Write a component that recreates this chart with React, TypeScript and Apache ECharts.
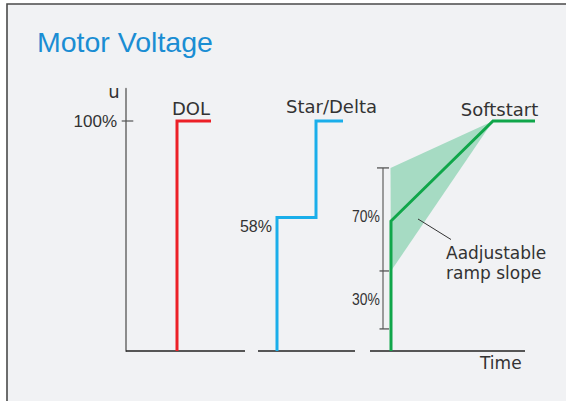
import React, { useEffect, useRef } from "react";
import * as echarts from "echarts";

// time units (1 unit = 10 px) and voltage in %
const dolX = [5.1, 5.1, 8.5];
const dolY = [0, 100, 100];
const starX = [15.1, 15.1, 19.0, 19.0, 21.7];
const starY = [0, 58, 58, 100, 100];
const softX = [26.5, 26.5, 36.7, 40.9];
const softY = [0, 56.5, 100, 100];
const bandX = [26.45, 36.7, 26.5];
const bandY = [79.6, 100, 34.8];
const bracketX = 25.7;
const bracketY = [79.6, 34.8, 9.6];
const axisSegX = [
  [0, 11.9],
  [13.2, 22.9],
  [24.4, 39.9],
];
const yTicks = [100];

const RED = "#ec2027";
const BLUE = "#1aaeea";
const GREEN = "#10a64a";
const BAND = "#a6dbc3";
const TXT = "#333333";

const zip = (xs: number[], ys: number[]) => xs.map((x, i) => [x, ys[i]]);

const segRender = (color: string, width: number) => (params: any, api: any) => {
  const p1 = api.coord([api.value(0), api.value(1)]);
  const p2 = api.coord([api.value(2), api.value(3)]);
  return {
    type: "line",
    shape: { x1: p1[0], y1: p1[1], x2: p2[0], y2: p2[1] },
    style: { stroke: color, lineWidth: width, lineCap: "butt" },
  };
};

export default function App() {
  const ref = useRef<HTMLDivElement>(null);
  useEffect(() => {
    if (!ref.current) return;
    const chart = echarts.init(ref.current, null, { renderer: "svg" });
    const capHalf = 0.6;
    const bracketCaps = [
      [bracketX - capHalf, bracketY[0], bracketX + capHalf, bracketY[0]],
      [bracketX - capHalf + 0.25, bracketY[1], bracketX + capHalf, bracketY[1]],
      [bracketX - capHalf + 0.25, bracketY[2], bracketX + capHalf, bracketY[2]],
    ];
    const font = (size: number, fam: string) => `${size}px ${fam}`;
    chart.setOption({
      animation: false,
      backgroundColor: "#ffffff",
      grid: { left: 126, right: 0, top: 88.8, bottom: 50 },
      xAxis: {
        type: "value",
        min: 0,
        max: 44,
        axisLine: { show: false },
        axisTick: { show: false },
        axisLabel: { show: false },
        splitLine: { show: false },
      },
      yAxis: {
        type: "value",
        min: 0,
        max: 114,
        axisLine: { show: true, lineStyle: { color: "#8c8c8c", width: 2 } },
        axisTick: { show: false },
        splitLine: { show: false },
        axisLabel: {
          show: true,
          customValues: yTicks,
          formatter: "{value}%",
          margin: 9,
          color: TXT,
          fontSize: 17,
          fontFamily: "Liberation Sans",
        },
      },
      graphic: [
        {
          type: "rect",
          z: -10,
          silent: true,
          shape: { x: 7, y: 4, width: 600, height: 420 },
          style: { fill: "#f1f2f4", stroke: "#4a4a4a", lineWidth: 1.6 },
        },
        {
          type: "text",
          z: 100,
          x: 37,
          y: 42,
          style: { text: "Motor Voltage", fill: "#1a8dd3", font: font(28.5, "Liberation Sans"), align: "left", verticalAlign: "middle" },
        },
        {
          type: "text",
          z: 100,
          x: 114,
          y: 91,
          style: { text: "u", fill: TXT, font: font(18, "DejaVu Sans"), align: "center", verticalAlign: "middle" },
        },
        {
          type: "text",
          z: 100,
          x: 191,
          y: 108,
          style: { text: "DOL", fill: TXT, font: font(18, "DejaVu Sans"), align: "center", verticalAlign: "middle" },
        },
        {
          type: "text",
          z: 100,
          x: 331.5,
          y: 106.5,
          style: { text: "Star/Delta", fill: TXT, font: font(18, "DejaVu Sans"), align: "center", verticalAlign: "middle" },
        },
        {
          type: "text",
          z: 100,
          x: 499.5,
          y: 109,
          style: { text: "Softstart", fill: TXT, font: font(18, "DejaVu Sans"), align: "center", verticalAlign: "middle" },
        },
        {
          type: "text",
          z: 100,
          x: 272,
          y: 226,
          style: { text: "58%", fill: TXT, font: font(16, "Liberation Sans"), align: "right", verticalAlign: "middle" },
        },
        {
          type: "text",
          z: 100,
          x: 380,
          y: 216,
          scaleX: 0.82,
          style: { text: "70%", fill: TXT, font: font(17, "Liberation Sans"), align: "right", verticalAlign: "middle" },
        },
        {
          type: "text",
          z: 100,
          x: 380,
          y: 299,
          scaleX: 0.82,
          style: { text: "30%", fill: TXT, font: font(17, "Liberation Sans"), align: "right", verticalAlign: "middle" },
        },
        {
          type: "line",
          z: 100,
          shape: { x1: 418, y1: 219, x2: 451, y2: 239.5 },
          style: { stroke: "#333", lineWidth: 1 },
        },
        {
          type: "text",
          z: 100,
          x: 446,
          y: 253,
          style: { text: "Aadjustable", fill: TXT, font: font(17, "DejaVu Sans"), align: "left", verticalAlign: "middle" },
        },
        {
          type: "text",
          z: 100,
          x: 446,
          y: 273,
          style: { text: "ramp slope", fill: TXT, font: font(17, "DejaVu Sans"), align: "left", verticalAlign: "middle" },
        },
        {
          type: "text",
          z: 100,
          x: 480,
          y: 363,
          style: { text: "Time", fill: TXT, font: font(17, "DejaVu Sans"), align: "left", verticalAlign: "middle" },
        },
      ],
      series: [
        {
          type: "custom",
          name: "band",
          silent: true,
          clip: false,
          data: [[bandX[0], bandY[0]]],
          renderItem: (params: any, api: any) => ({
            type: "polygon",
            shape: { points: bandX.map((x, i) => api.coord([x, bandY[i]])) },
            style: { fill: BAND, stroke: "none" },
          }),
          z: 1,
        },
        {
          type: "custom",
          name: "axisX",
          silent: true,
          clip: false,
          data: axisSegX.map((s) => [s[0], 0, s[1], 0]),
          renderItem: segRender("#222222", 1.5),
          z: 2,
        },
        {
          type: "custom",
          name: "ytick",
          silent: true,
          clip: false,
          data: yTicks.map((v) => [-0.43, v, 0.73, v]),
          renderItem: segRender("#555555", 1.2),
          z: 2,
        },
        {
          type: "custom",
          name: "bracket",
          silent: true,
          clip: false,
          data: [[bracketX, bracketY[0], bracketX, bracketY[2]]],
          renderItem: segRender("#9a9a9a", 2),
          z: 2,
        },
        {
          type: "custom",
          name: "bracketCaps",
          silent: true,
          clip: false,
          data: bracketCaps,
          renderItem: segRender("#555555", 1.3),
          z: 2,
        },
        {
          type: "line",
          name: "DOL",
          data: zip(dolX, dolY),
          symbol: "none",
          lineStyle: { color: RED, width: 3, join: "miter", cap: "butt" },
          z: 3,
        },
        {
          type: "line",
          name: "Star/Delta",
          data: zip(starX, starY),
          symbol: "none",
          lineStyle: { color: BLUE, width: 3, join: "miter", cap: "butt" },
          z: 3,
        },
        {
          type: "line",
          name: "Softstart",
          data: zip(softX, softY),
          symbol: "none",
          lineStyle: { color: GREEN, width: 3, join: "miter", cap: "butt" },
          z: 3,
        },
      ],
    });
    return () => chart.dispose();
  }, []);
  return (
    <div
      ref={ref}
      style={{ position: "fixed", left: 0, top: 0, width: 566, height: 401 }}
    />
  );
}
